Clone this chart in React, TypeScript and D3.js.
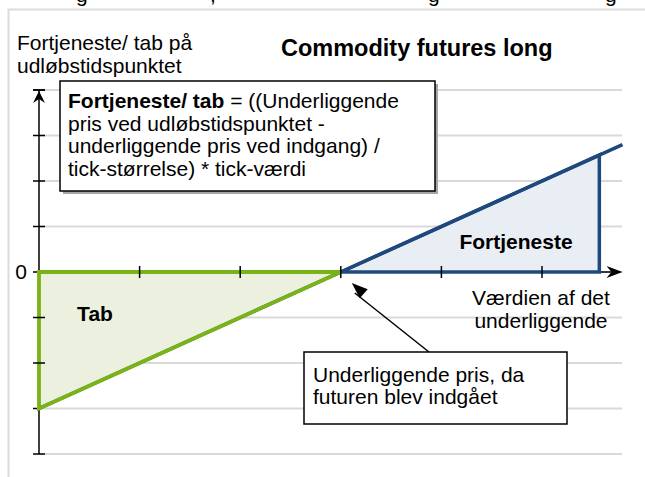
import React from "react";
import * as d3 from "d3";

const W = 645;
const H = 477;

// Data
const xDomain = [0, 6];
const yDomain = [-4, 4];
const xTicks = [1, 2, 3, 4, 5];
const yTicks = [-4, -3, -2, -1, 0, 1, 2, 3, 4];
const gridValues = [-4, -3, -2, -1, 0, 1, 2, 3, 4];
const axisEndX = 5.8;
const entryPrice = 3;
const payoffX = [0, 3, 5.8];
const payoffY = [-3, 0, 2.8];
const lossX = [0, 3, 0];
const lossY = [0, 0, -3];
const profitX = [3, 5.57, 5.57];
const profitY = [0, 0, 2.57];
const formulaLines = [
  "pris ved udløbstidspunktet -",
  "underliggende pris ved indgang) /",
  "tick-størrelse) * tick-værdi",
];
const yLabelLines = ["Fortjeneste/ tab på", "udløbstidspunktet"];
const xLabelLines = ["Værdien af det", "underliggende"];
const calloutLines = ["Underliggende pris, da", "futuren blev indgået"];
const topFragments = [
  { t: "g", x: 76 },
  { t: ",", x: 210 },
  { t: "g", x: 428 },
  { t: "g", x: 605 },
];

const FONT = "'Liberation Sans', Arial, Helvetica, sans-serif";

export default function App() {
  const x = d3.scaleLinear().domain(xDomain).range([39, 642.6]);
  const y = d3.scaleLinear().domain(yDomain).range([454, 90]);
  const line = d3.line<[number, number]>().x((d) => x(d[0])).y((d) => y(d[1]));
  const poly = (xs: number[], ys: number[]) =>
    line(xs.map((v, i) => [v, ys[i]] as [number, number])) + "Z";

  const x0 = x(0);
  const yZero = y(0);
  const xEnd = x(axisEndX);
  const entryPx = x(entryPrice);

  return (
    <svg
      width={W}
      height={H}
      style={{ position: "absolute", left: 0, top: 0, background: "#fff" }}
      fontFamily={FONT}
    >
      {/* clipped text from above */}
      {topFragments.map((f, i) => (
        <text key={i} x={f.x} y={2} fontSize={21} fill="#000">
          {f.t}
        </text>
      ))}
      {/* frame */}
      <path d={`M8.5,${H} V9.5 H${W}`} fill="none" stroke="#dcdcdc" strokeWidth={2} />

      {/* gridlines */}
      {gridValues.map((v) => (
        <line key={v} x1={x0} x2={622} y1={y(v)} y2={y(v)} stroke="#d9d9d9" strokeWidth={2} />
      ))}

      {/* y label */}
      {yLabelLines.map((t, i) => (
        <text key={i} x={17} y={50 + i * 22.5} fontSize={21} fill="#000">
          {t}
        </text>
      ))}
      {/* title */}
      <text x={281} y={56} fontSize={23.5} fontWeight="bold" fill="#000">
        Commodity futures long
      </text>

      {/* fills */}
      <path d={poly(profitX, profitY)} fill="#e9edf4" stroke="none" />
      <path d={poly(lossX, lossY)} fill="#ebf1de" stroke="none" />

      {/* axis lines (under the payoff strokes) */}
      <line x1={x0} x2={x0} y1={y(4)} y2={y(-4)} stroke="#000" strokeWidth={1.5} />
      <line x1={x0} x2={xEnd - 4} y1={yZero} y2={yZero} stroke="#000" strokeWidth={1.5} />

      {/* payoff line */}
      <path
        d={line(payoffX.map((v, i) => [v, payoffY[i]] as [number, number])) || ""}
        fill="none"
        stroke="#1f497d"
        strokeWidth={3.5}
      />
      <path d={poly(profitX, profitY)} fill="none" stroke="#1f497d" strokeWidth={3.5} strokeLinejoin="miter" />
      <path d={poly(lossX, lossY)} fill="none" stroke="#7ab317" strokeWidth={3.8} strokeLinejoin="miter" />

      {/* y axis decorations */}
      <line x1={x0 - 6} x2={x0 + 6} y1={y(4)} y2={y(4)} stroke="#000" strokeWidth={1.5} />
      <path d={`M${x0},${y(4) + 1} L${x0 - 6},${y(4) + 13} L${x0},${y(4) + 9} L${x0 + 6},${y(4) + 13} Z`} fill="#000" />
      {yTicks.map((v) => (
        <line
          key={v}
          x1={x0 - 6}
          x2={v === 0 || v === -3 ? x0 - 2 : x0 + 6}
          y1={y(v)}
          y2={y(v)}
          stroke="#000"
          strokeWidth={1.5}
        />
      ))}
      {/* x axis decorations */}
      <path d={`M${xEnd},${yZero} L${xEnd - 16},${yZero - 6} L${xEnd - 11},${yZero} L${xEnd - 16},${yZero + 6} Z`} fill="#000" />
      {xTicks.map((v) => (
        <line key={v} x1={x(v)} x2={x(v)} y1={yZero - 6} y2={yZero + 6} stroke="#000" strokeWidth={1.5} />
      ))}
      <text x={27} y={yZero + 7} fontSize={21} textAnchor="end" fill="#000">
        0
      </text>

      {/* formula box */}
      <rect x={63} y={84} width={375} height={110} fill="#a6a6a6" />
      <rect x={60} y={81} width={375} height={110} fill="#fff" stroke="#000" strokeWidth={1.5} />
      <text x={68} y={108} fontSize={21} fill="#000">
        <tspan fontWeight="bold">Fortjeneste/ tab</tspan>
        <tspan> = ((Underliggende</tspan>
      </text>
      {formulaLines.map((t, i) => (
        <text key={i} x={68} y={130.5 + i * 22.5} fontSize={21} fill="#000">
          {t}
        </text>
      ))}

      {/* labels */}
      <text x={516} y={249} fontSize={21} fontWeight="bold" textAnchor="middle" fill="#000">
        Fortjeneste
      </text>
      <text x={95} y={321} fontSize={21} fontWeight="bold" textAnchor="middle" fill="#000">
        Tab
      </text>
      {xLabelLines.map((t, i) => (
        <text key={i} x={541} y={305 + i * 22.5} fontSize={21} textAnchor="middle" fill="#000">
          {t}
        </text>
      ))}

      {/* callout arrow */}
      <line x1={429} y1={352} x2={entryPx + 14} y2={yZero + 21} stroke="#000" strokeWidth={1.5} />
      <path
        d={(() => {
          const tx = entryPx + 11, ty = yZero + 11;
          const ang = Math.atan2(352 - ty, 429 - tx);
          const len = 16, hw = 6;
          const bx = tx + Math.cos(ang) * len, by = ty + Math.sin(ang) * len;
          const px = -Math.sin(ang) * hw, py = Math.cos(ang) * hw;
          return `M${tx},${ty} L${bx + px},${by + py} L${bx - px},${by - py} Z`;
        })()}
        fill="#000"
      />
      {/* callout box */}
      <rect x={304} y={352} width={263} height={72} fill="#fff" stroke="#000" strokeWidth={1.5} />
      {calloutLines.map((t, i) => (
        <text key={i} x={313} y={382 + i * 22} fontSize={21} fill="#000">
          {t}
        </text>
      ))}
    </svg>
  );
}
